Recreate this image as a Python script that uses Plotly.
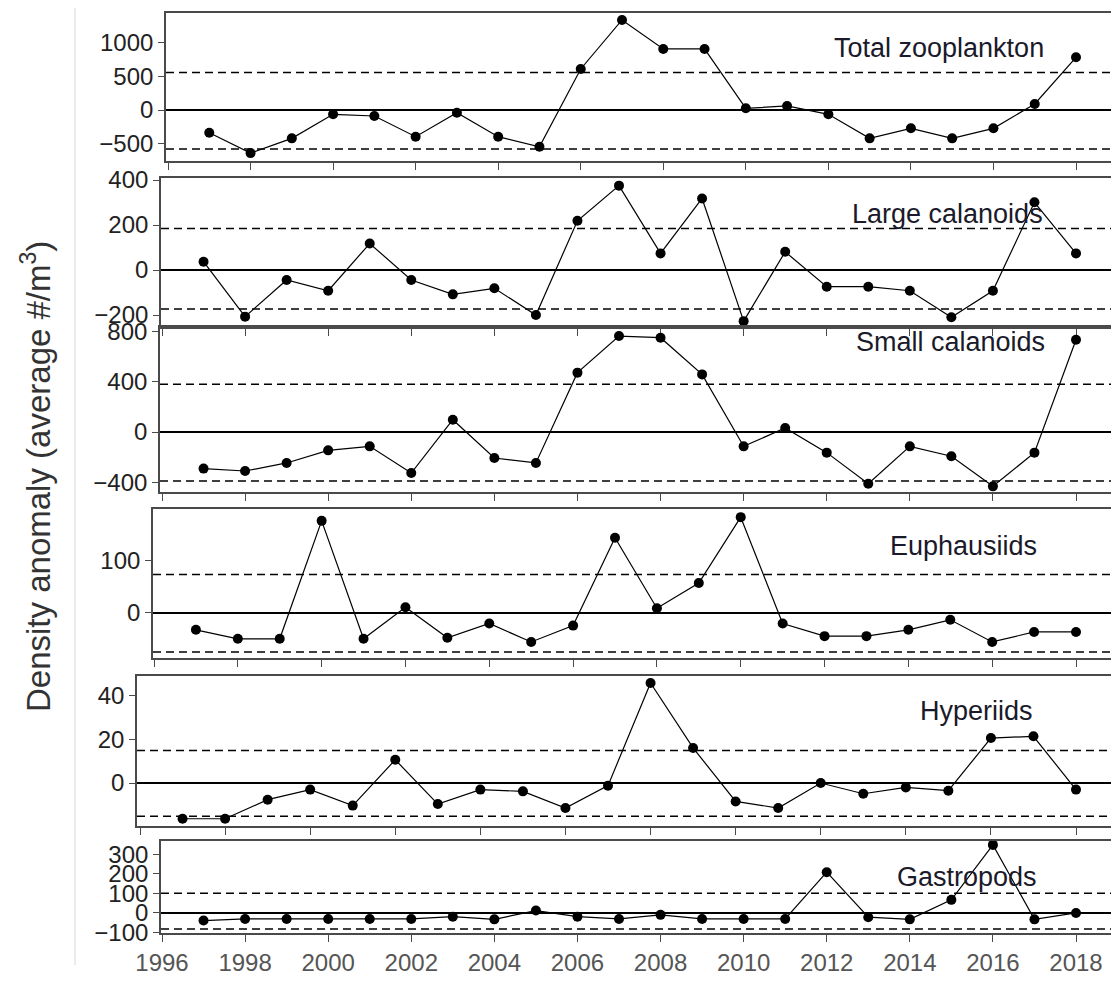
import plotly.graph_objects as go

# ---------------- data ----------------
years = list(range(1997, 2019))

total_zooplankton = [-337, -640, -421, -64, -89, -396, -40, -396, -545, 609, 1337,
                     906, 906, 25, 60, -64, -421, -272, -421, -272, 89, 782]
large_calanoids = [37, -207, -44, -92, 118, -44, -108, -81, -200, 219, 375,
                   74, 318, -227, 81, -74, -74, -92, -210, -92, 301, 74]
small_calanoids = [-291, -310, -246, -146, -114, -326, 98, -207, -246, 472, 763,
                   750, 458, -114, 32, -164, -411, -114, -193, -432, -164, 734]
euphausiids = [-32, -49, -49, 175, -49, 11, -47, -20, -55, -24, 143,
               9, 57, 182, -20, -44, -44, -32, -13, -55, -36, -36]
hyperiids = [-16.3, -16.3, -7.6, -3.0, -10.3, 10.6, -9.6, -3.0, -3.8, -11.4, -1.2,
             45.6, 16.0, -8.4, -11.4, 0.0, -4.9, -2.0, -3.5, 20.5, 21.3, -3.0]
gastropods = [-39, -31, -31, -31, -31, -31, -19, -33, 12, -19, -31,
              -10, -31, -31, -31, 209, -22, -33, 67, 349, -33, 0]

panel_names = ["Total zooplankton", "Large calanoids", "Small calanoids",
               "Euphausiids", "Hyperiids", "Gastropods"]
upper_limits = [555, 185, 379, 73, 14.8, 101]
lower_limits = [-580, -173, -390, -74, -15.2, -82]
y_tickvals = [[-500, 0, 500, 1000], [-200, 0, 200, 400], [-400, 0, 400, 800],
              [0, 100], [0, 20, 40], [-100, 0, 100, 200, 300]]
x_tickvals = list(range(1996, 2019, 2))

series = [total_zooplankton, large_calanoids, small_calanoids,
          euphausiids, hyperiids, gastropods]

# ---------------- layout geometry (page pixels) ----------------
PAGE_W, PAGE_H = 1119, 992
OFF = 8                      # default page body margin
W, H = PAGE_W - OFF, PAGE_H - 2 * OFF


def fx(px):
    return (px - OFF) / W


def fy(py):
    return 1 - (py - OFF) / H


frame_left = [166, 161, 160, 153, 137, 161]
px_1996 = [168, 162, 162, 154, 140, 162]
px_2018 = 1076
top_px = [13, 178, 327, 509, 676, 841]
bottom_px = [161, 327, 492, 658, 826, 933]
y_ranges = [[-757, 1440], [-253, 409], [-477, 835], [-85.5, 197.5], [-19.6, 48.8], [-103, 369]]
label_pos = [(939, 48), (947, 214), (950, 342), (963, 546), (976, 711), (967, 877)]

AXCOL = "#4a4a4a"
FONT = "Liberation Sans, Arial, sans-serif"

fig = go.Figure()
layout = dict(
    width=W, height=H,
    autosize=False,
    margin=dict(l=0, r=0, t=0, b=0, pad=0, autoexpand=False),
    paper_bgcolor="white", plot_bgcolor="white",
    showlegend=False,
    font=dict(family=FONT, size=24, color="#222222"),
    shapes=[], annotations=[],
)

for i in range(6):
    n = i + 1
    xs = "" if n == 1 else str(n)
    ppy = (px_2018 - px_1996[i]) / 22.0
    xmin = 1996 - (px_1996[i] - frame_left[i]) / ppy
    xmax = 2018 + (PAGE_W - px_2018) / ppy

    fig.add_trace(go.Scatter(
        x=years, y=series[i], mode="lines+markers",
        xaxis="x" + xs, yaxis="y" + xs,
        line=dict(color="black", width=1.2),
        marker=dict(color="black", size=10),
        cliponaxis=False,
    ))

    layout["xaxis" + xs] = dict(
        domain=[fx(frame_left[i]), 1.0],
        range=[xmin, xmax],
        anchor="y" + xs,
        tickmode="array", tickvals=x_tickvals,
        showticklabels=(n == 6),
        ticks="outside", ticklen=7, tickwidth=1.3, tickcolor=AXCOL,
        showline=True, linecolor=AXCOL, linewidth=1.6, mirror=True,
        showgrid=False, zeroline=False, automargin=False,
        tickfont=dict(family=FONT, size=24, color="#555555"),
    )
    layout["yaxis" + xs] = dict(
        domain=[fy(bottom_px[i]), fy(top_px[i])],
        range=y_ranges[i],
        anchor="x" + xs,
        tickmode="array", tickvals=y_tickvals[i],
        ticks="outside", ticklen=6, tickwidth=1.3, tickcolor=AXCOL,
        showline=True, linecolor=AXCOL, linewidth=1.6, mirror=False,
        showgrid=False, automargin=False,
        zeroline=True, zerolinecolor="black", zerolinewidth=1.6,
        tickfont=dict(family=FONT, size=24, color="#222222"),
    )
    for lim in (upper_limits[i], lower_limits[i]):
        layout["shapes"].append(dict(
            type="line", xref="x" + xs + " domain", yref="y" + xs,
            x0=0, x1=1, y0=lim, y1=lim,
            line=dict(color="black", width=1.5, dash="8px,5px"),
        ))
    lx, ly = label_pos[i]
    layout["annotations"].append(dict(
        text=panel_names[i], xref="paper", yref="paper",
        x=fx(lx), y=fy(ly), xanchor="center", yanchor="middle",
        showarrow=False, font=dict(family=FONT, size=27, color="#1a1a2a"),
    ))

layout["annotations"].append(dict(
    text="Density anomaly (average #/m<sup>3</sup>)",
    xref="paper", yref="paper", x=fx(36), y=fy(477),
    xanchor="center", yanchor="middle", textangle=-90, showarrow=False,
    font=dict(family=FONT, size=33, color="#333333"),
))
layout["shapes"].append(dict(
    type="line", xref="paper", yref="paper",
    x0=fx(75), x1=fx(75), y0=fy(965), y1=1,
    line=dict(color="#d8d8d8", width=1),
))

fig.update_layout(**layout)
fig.write_html("out.html")
